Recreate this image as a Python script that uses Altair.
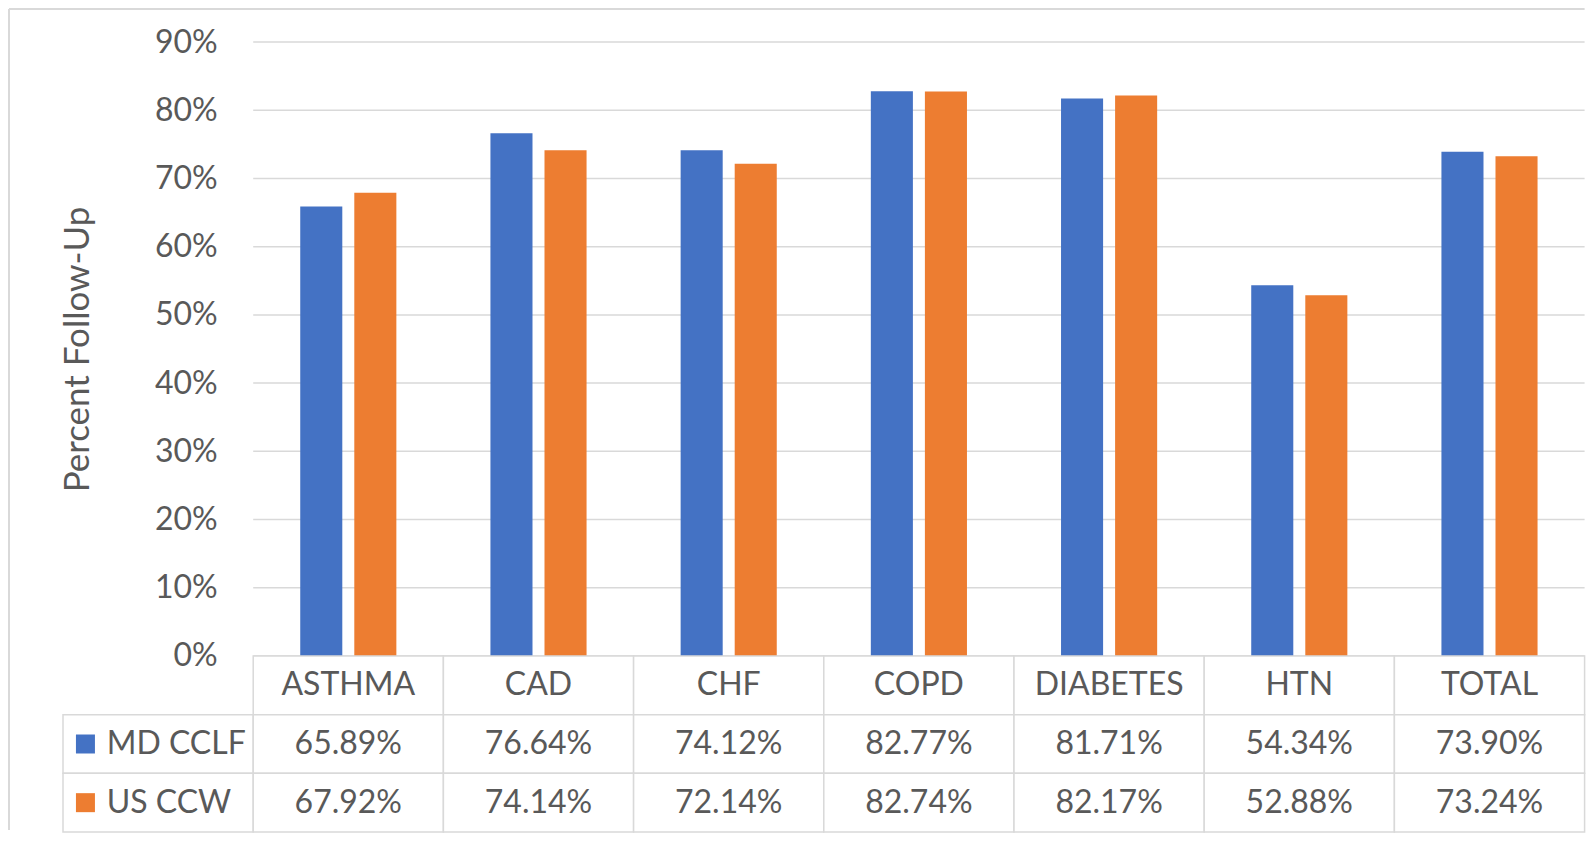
import altair as alt
import pandas as pd

categories = ["ASTHMA", "CAD", "CHF", "COPD", "DIABETES", "HTN", "TOTAL"]
series_names = ["MD CCLF", "US CCW"]
md_cclf = [65.89, 76.64, 74.12, 82.77, 81.71, 54.34, 73.90]
us_ccw = [67.92, 74.14, 72.14, 82.74, 82.17, 52.88, 73.24]
y_ticks = [0, 10, 20, 30, 40, 50, 60, 70, 80, 90]
colors = ["#4472C4", "#ED7D31"]

LEG = " "  # legend column key in the data table
columns = [LEG] + categories
rows = ["header"] + series_names

records = []
for s, vals in zip(series_names, [md_cclf, us_ccw]):
    for c, v in zip(categories, vals):
        records.append({"category": c, "series": s, "value": v / 100})
df = pd.DataFrame(records)

grid_df = pd.DataFrame({"tick": [t / 100 for t in y_ticks],
                        "start": categories[0], "end": categories[-1]})

cells = []
for c in categories:
    cells.append({"col": c, "row": "header", "text": c})
for s, vals in zip(series_names, [md_cclf, us_ccw]):
    cells.append({"col": LEG, "row": s, "text": ""})
    for c, v in zip(categories, vals):
        cells.append({"col": c, "row": s, "text": f"{v:.2f}%"})
cells_df = pd.DataFrame(cells)
legend_df = pd.DataFrame({"col": LEG, "row": series_names, "series": series_names})

FONT = "Lato"
TXT = "#595959"
GRID = "#D9D9D9"
FRAME = "#D9D9D9"
COLW = 190.2
W = COLW * len(columns)
TOP_H = 614
BOT_H = 176

xscale = alt.Scale(domain=columns, paddingInner=0, paddingOuter=0)
color_scale = alt.Scale(domain=series_names, range=colors)

# chart-area frame (left and top edges only, as in the original)
frame_left = alt.Chart(grid_df.head(1)).mark_rule(color=FRAME, strokeWidth=2).encode(
    x=alt.value(-54), y=alt.value(-33), y2=alt.value(TOP_H + BOT_H - 2)
)
frame_top = alt.Chart(grid_df.head(1)).mark_rule(color=FRAME, strokeWidth=2).encode(
    x=alt.value(-54), x2=alt.value(W), y=alt.value(-33)
)

grid = alt.Chart(grid_df).mark_rule(color=GRID, strokeWidth=1.5).encode(
    x=alt.X("start:N", scale=xscale, bandPosition=0, axis=None),
    x2=alt.X2("end:N", bandPosition=1),
    y=alt.Y("tick:Q"),
)

bars = alt.Chart(df).mark_bar().encode(
    x=alt.X("category:N", scale=xscale, axis=None),
    xOffset=alt.XOffset("series:N", scale=alt.Scale(domain=series_names, paddingInner=0.222, paddingOuter=0.87)),
    y=alt.Y("value:Q",
            scale=alt.Scale(domain=[0, 0.9], nice=False),
            axis=alt.Axis(values=[t / 100 for t in y_ticks], format=".0%", offset=-COLW,
                          grid=False, domain=False, ticks=False, labelPadding=36,
                          labelFontSize=32, labelColor=TXT, labelFont=FONT,
                          title="Percent Follow-Up", titleFont=FONT, titleFontSize=35,
                          titleFontWeight="normal", titleColor=TXT, titlePadding=59)),
    color=alt.Color("series:N", scale=color_scale, legend=None),
)

top = alt.layer(frame_left, frame_top, grid, bars).properties(width=W, height=TOP_H)

yrow = alt.Y("row:N", scale=alt.Scale(domain=rows, paddingInner=0, paddingOuter=0), axis=None)

rects = alt.Chart(cells_df).mark_rect(fill="white", stroke=GRID, strokeWidth=1.5).encode(
    x=alt.X("col:N", scale=xscale, axis=None),
    y=yrow,
)
texts = alt.Chart(cells_df).mark_text(font=FONT, fontSize=32, color=TXT).encode(
    x=alt.X("col:N", scale=xscale, axis=None),
    y=yrow,
    text="text:N",
)
squares = alt.Chart(legend_df).mark_point(shape="square", filled=True, size=361, opacity=1).encode(
    x=alt.X("col:N", scale=xscale, bandPosition=0.118, axis=None),
    y=yrow,
    color=alt.Color("series:N", scale=color_scale, legend=None),
)
leg_text = alt.Chart(legend_df).mark_text(font=FONT, fontSize=32, color=TXT, align="left").encode(
    x=alt.X("col:N", scale=xscale, bandPosition=0.23, axis=None),
    y=yrow,
    text="series:N",
)
bottom = alt.layer(rects, texts, squares, leg_text).properties(width=W, height=BOT_H)

chart = alt.vconcat(top, bottom, spacing=0, bounds="flush").resolve_scale(
    x="independent", y="independent", color="shared"
).properties(
    padding={"left": 0, "top": 0, "right": 0, "bottom": 0}
).configure_view(stroke=None)

chart.save("out.html", embed_options={"renderer": "svg", "actions": False})
